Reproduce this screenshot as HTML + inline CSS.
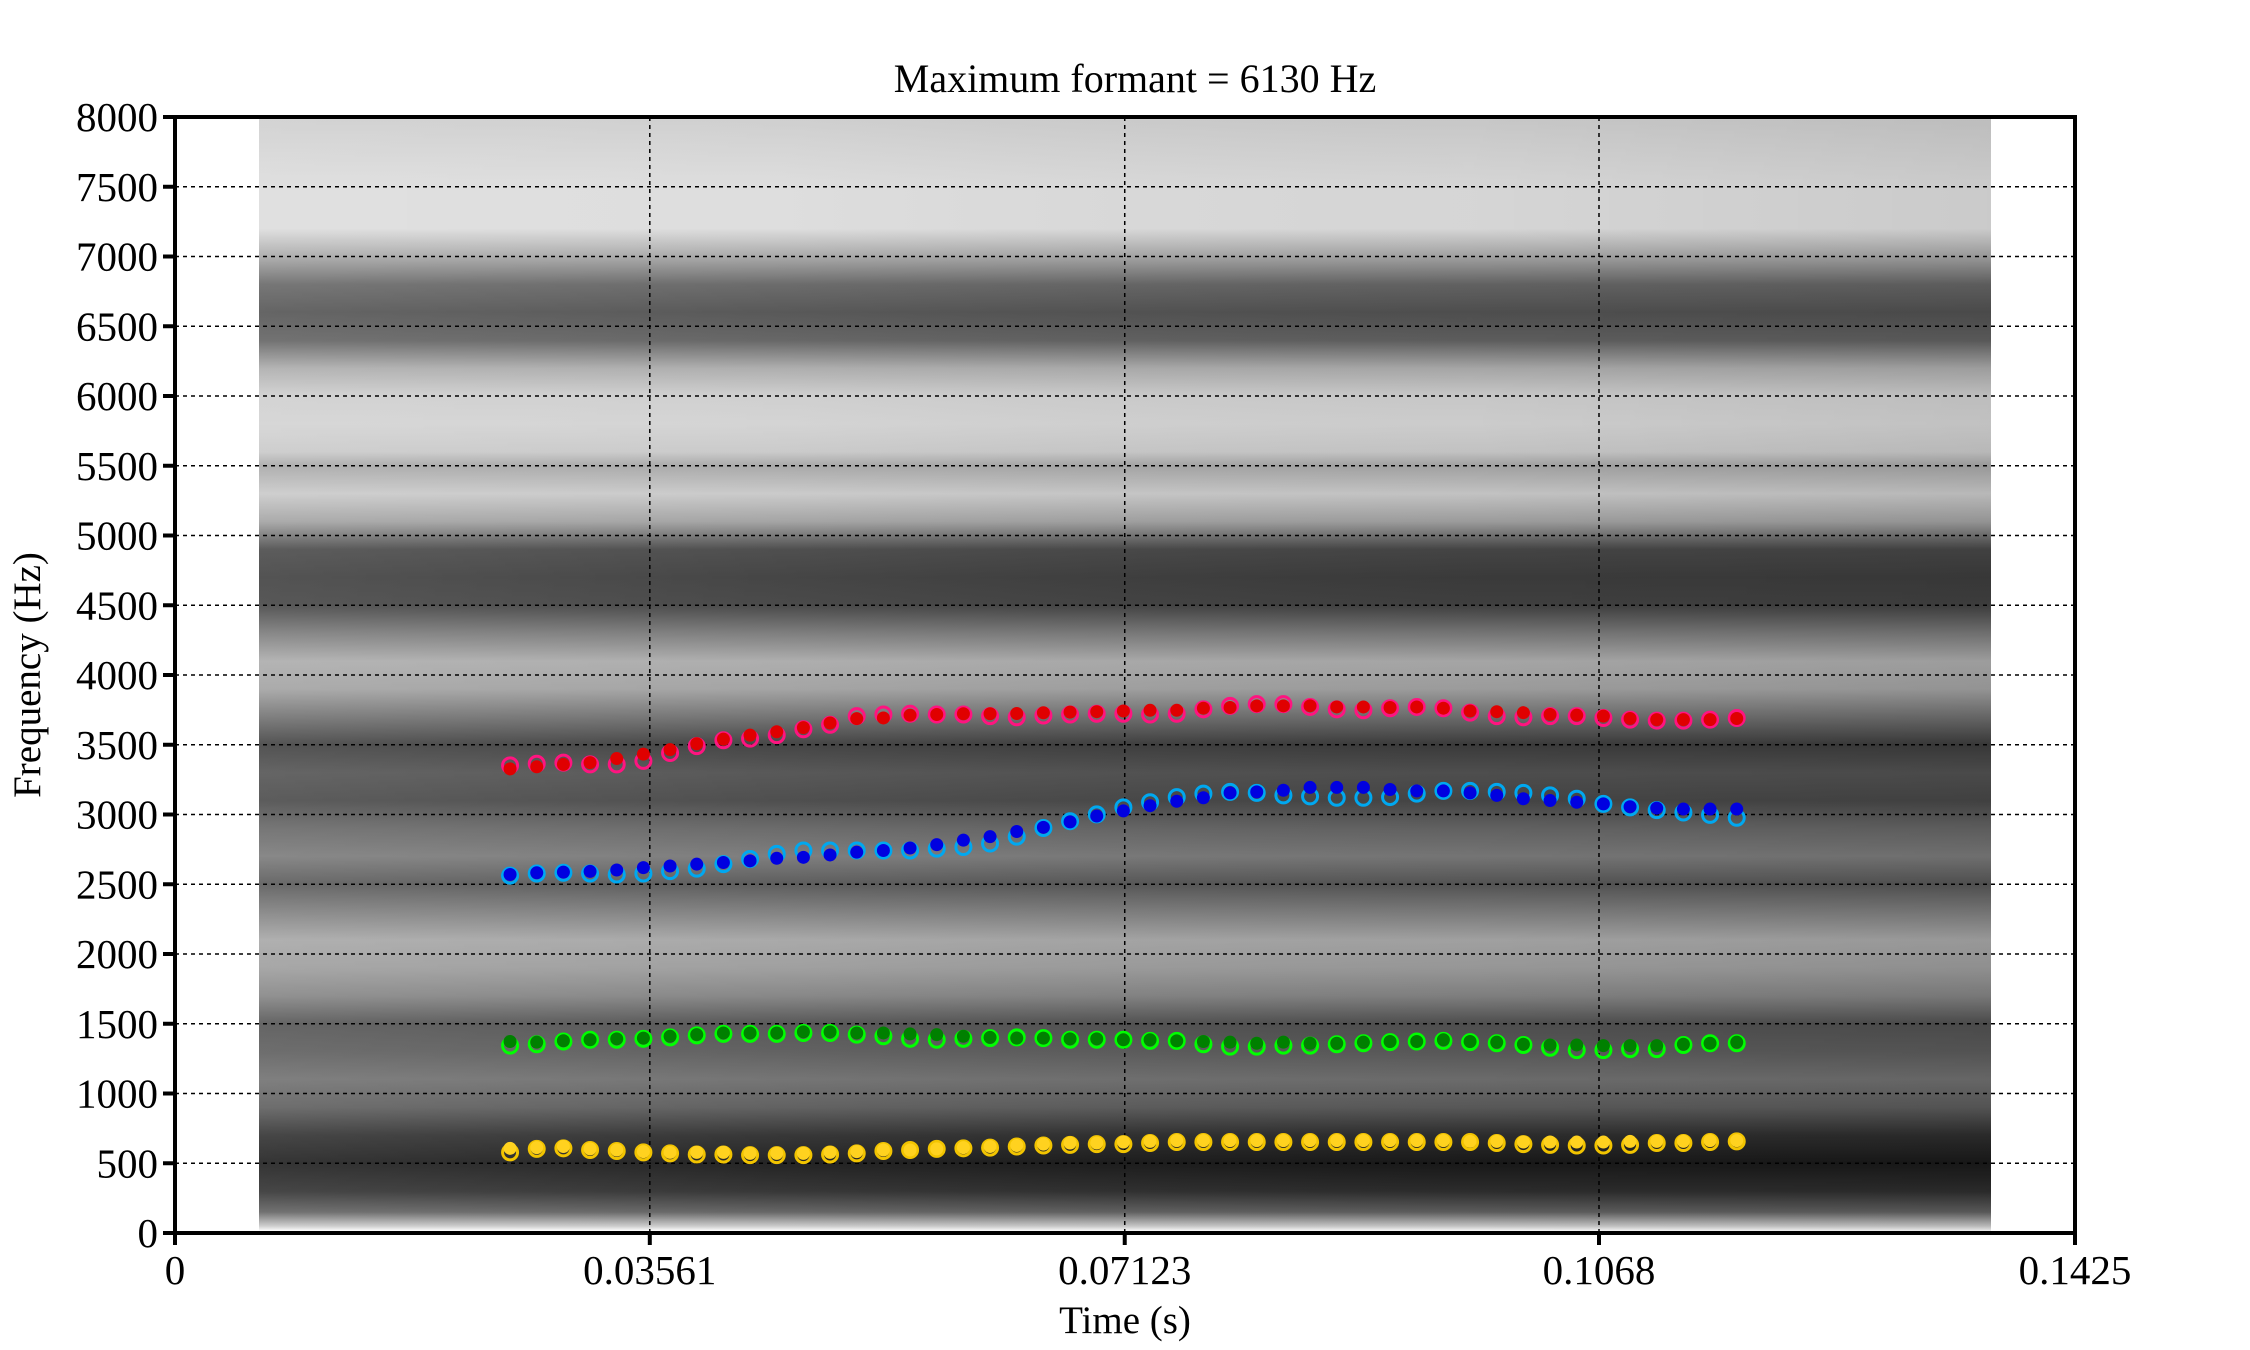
<!DOCTYPE html>
<html><head><meta charset="utf-8">
<style>
html,body{margin:0;padding:0;background:#fff;}
svg{display:block;font-family:"Liberation Serif",serif;}
</style></head>
<body>
<svg id="chart" width="2250" height="1350" viewBox="0 0 2250 1350" xmlns="http://www.w3.org/2000/svg">
<defs>
<linearGradient id="spec" x1="0" y1="0" x2="0" y2="1" gradientUnits="objectBoundingBox"></linearGradient>
<linearGradient id="hshade" x1="0" y1="0" x2="1" y2="0">
<stop offset="0" stop-color="#fff" stop-opacity="0.12"/>
<stop offset="0.3" stop-color="#fff" stop-opacity="0.05"/>
<stop offset="0.7" stop-color="#000" stop-opacity="0.03"/>
<stop offset="1" stop-color="#000" stop-opacity="0.08"/>
</linearGradient>
</defs>
<g id="specLayer"></g>
<g id="gridLayer"></g>
<g id="dotLayer"></g>
<g id="axisLayer"></g>
<text x="1135" y="92" font-size="40" text-anchor="middle">Maximum formant = 6130 Hz</text>
<text x="1125" y="1333" font-size="39" text-anchor="middle">Time (s)</text>
<text x="0" y="0" font-size="39" text-anchor="middle" transform="translate(40,675) rotate(-90)">Frequency (Hz)</text>
</svg>
<script>
const t0 = 0.02513, dt = 0.002;
const xTicks = [0, 0.03561, 0.07123, 0.1068, 0.1425];
const xTickLabels = ["0", "0.03561", "0.07123", "0.1068", "0.1425"];
const yTicks = [0,500,1000,1500,2000,2500,3000,3500,4000,4500,5000,5500,6000,6500,7000,7500,8000];
const f3Filled = [3327,3342,3359,3372,3401,3433,3465,3507,3540,3569,3593,3623,3656,3687,3692,3712,3717,3722,3722,3724,3729,3734,3737,3742,3747,3747,3762,3767,3779,3779,3779,3771,3771,3767,3771,3762,3742,3737,3730,3717,3712,3705,3688,3680,3680,3680,3688];
const f3Ring = [3352,3364,3372,3359,3359,3384,3441,3490,3532,3544,3569,3611,3643,3705,3717,3722,3717,3717,3705,3697,3710,3717,3722,3722,3717,3722,3754,3779,3791,3791,3771,3754,3747,3762,3771,3762,3730,3705,3697,3705,3705,3692,3680,3673,3673,3680,3692];
const f2Filled = [2570,2582,2587,2592,2602,2619,2631,2644,2656,2668,2686,2693,2710,2730,2742,2760,2784,2816,2841,2878,2908,2947,2989,3026,3063,3095,3120,3155,3162,3174,3194,3194,3194,3179,3169,3169,3155,3137,3113,3100,3088,3076,3056,3046,3039,3039,3039];
const f2Ring = [2562,2577,2582,2577,2570,2577,2594,2612,2644,2681,2718,2742,2742,2742,2742,2742,2755,2767,2792,2841,2903,2952,3001,3051,3088,3125,3150,3162,3155,3137,3130,3120,3120,3125,3150,3169,3169,3162,3155,3137,3113,3076,3051,3031,3014,2997,2977];
const f1Filled = [1373,1368,1378,1385,1392,1397,1410,1422,1434,1434,1434,1442,1442,1434,1434,1427,1422,1410,1402,1397,1397,1392,1392,1385,1385,1377,1373,1368,1360,1368,1360,1360,1368,1373,1373,1385,1373,1368,1353,1348,1348,1343,1343,1343,1353,1360,1368];
const f1Ring = [1343,1353,1373,1385,1385,1392,1402,1417,1427,1427,1427,1434,1434,1422,1410,1392,1385,1392,1397,1402,1397,1385,1385,1385,1377,1377,1353,1336,1336,1343,1343,1353,1360,1368,1373,1377,1368,1360,1348,1328,1311,1311,1318,1318,1348,1360,1360];
const f0Filled = [607,612,620,603,595,583,578,578,578,571,571,571,578,583,595,595,603,612,620,627,637,645,645,652,657,662,662,662,662,662,662,662,662,662,662,662,657,657,652,652,652,652,657,657,657,662,662];
const f0Ring = [578,603,607,595,588,578,571,563,563,558,558,558,563,571,588,595,603,607,612,620,627,632,637,637,645,652,652,652,652,652,652,652,652,652,652,652,652,645,637,632,627,627,632,645,645,652,657];
const specFreqs = [8000,7500,7200,7000,6800,6600,6400,6200,6000,5800,5600,5500,5300,5100,4900,4700,4500,4300,4100,3900,3700,3500,3300,3100,2900,2700,2500,2300,2100,1900,1700,1500,1300,1100,900,700,500,300,150,50,0];
const specGray  = [205,220,220,165,100,80,95,170,205,210,200,165,200,160,70,60,65,120,170,160,110,60,80,70,100,120,85,125,165,155,130,80,90,110,90,45,25,45,95,200,255];

const NS = "http://www.w3.org/2000/svg";
const L=175,R=2075,T=117,B=1233;
const xMax=0.1425,yMax=8000;
function xs(v){return L+(v/xMax)*(R-L);}
function ys(v){return B-(v/yMax)*(B-T);}
function mk(tag,attrs,parent){const e=document.createElementNS(NS,tag);for(const k in attrs)e.setAttribute(k,attrs[k]);parent.appendChild(e);return e;}

const grad=document.getElementById('spec');
const sTop=ys(7985), sBot=1231;
specFreqs.forEach((f,i)=>{
  const off=(ys(f)-sTop)/(sBot-sTop);
  const g=specGray[i];
  mk('stop',{offset:Math.max(0,Math.min(1,off)),'stop-color':`rgb(${g},${g},${g})`},grad);
});
const spec=document.getElementById('specLayer');
const sr=mk('rect',{x:259,y:sTop,width:1991-259,height:sBot-sTop,fill:'url(#spec)'},spec);


const sh=mk('rect',{x:259,y:sTop,width:1991-259,height:sBot-sTop,fill:'url(#hshade)'},spec);



const grid=document.getElementById('gridLayer');
yTicks.forEach(v=>{
  if(v===0||v===yMax)return;
  const l=mk('line',{x1:L,x2:R,y1:ys(v),y2:ys(v),stroke:'#000','stroke-width':1.5,'stroke-dasharray':'4 4'},grid);
  
  
});
xTicks.forEach(v=>{
  if(v===0||v===xMax)return;
  const l=mk('line',{x1:xs(v),x2:xs(v),y1:T,y2:B,stroke:'#000','stroke-width':1.5,'stroke-dasharray':'4 4'},grid);
  
  
});

const dots=document.getElementById('dotLayer');
function ringSeries(arr,color,name){
  arr.forEach((v,i)=>{
    const c=mk('circle',{cx:xs(t0+i*dt),cy:ys(v),r:7.5,fill:'none',stroke:color,'stroke-width':3},dots);
    
    
  });
}
function fillSeries(arr,color,name){
  arr.forEach((v,i)=>{
    const c=mk('circle',{cx:xs(t0+i*dt),cy:ys(v),r:6.5,fill:color},dots);
    
    
  });
}
ringSeries(f3Ring,'#ff1480','f3-ring-point');
ringSeries(f2Ring,'#00a8f0','f2-ring-point');
ringSeries(f1Ring,'#00ff00','f1-ring-point');
ringSeries(f0Ring,'#f2c400','f0-ring-point');
fillSeries(f3Filled,'#e00000','f3-point');
fillSeries(f2Filled,'#0000e0','f2-point');
fillSeries(f1Filled,'#008000','f1-point');
fillSeries(f0Filled,'#ffd21f','f0-point');

const ax=document.getElementById('axisLayer');
const fr=mk('rect',{x:L,y:T,width:R-L,height:B-T,fill:'none',stroke:'#000','stroke-width':4},ax);


yTicks.forEach(v=>{
  const tk=mk('line',{x1:L-12,x2:L,y1:ys(v),y2:ys(v),stroke:'#000','stroke-width':4},ax);
  
  
  const tx=mk('text',{x:158,y:ys(v)+14,'font-size':41,'text-anchor':'end'},ax);
  tx.textContent=String(v);
  
  
});
xTicks.forEach((v,i)=>{
  const tk=mk('line',{x1:xs(v),x2:xs(v),y1:B,y2:B+12,stroke:'#000','stroke-width':4},ax);
  
  
  const tx=mk('text',{x:xs(v),y:1284,'font-size':41,'text-anchor':'middle'},ax);
  tx.textContent=xTickLabels[i];
  
  
});
</script>
</body></html>
